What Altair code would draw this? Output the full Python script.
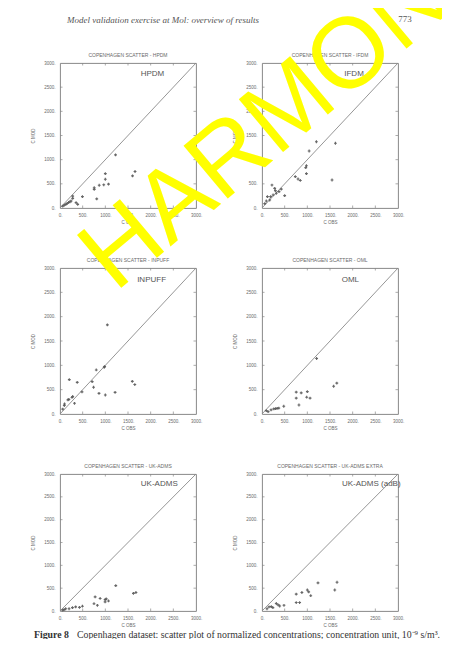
import altair as alt
import pandas as pd

tick_values = [0, 500, 1000, 1500, 2000, 2500, 3000]

panel_titles = [
    "COPENHAGEN SCATTER  -  HPDM",
    "COPENHAGEN SCATTER  -  IFDM",
    "COPENHAGEN SCATTER  -  INPUFF",
    "COPENHAGEN SCATTER  -  OML",
    "COPENHAGEN SCATTER  -  UK-ADMS",
    "COPENHAGEN SCATTER  -  UK-ADMS EXTRA",
]
model_labels = ["HPDM", "IFDM", "INPUFF", "OML", "UK-ADMS", "UK-ADMS (adB)"]
label_obs = [2040, 2030, 2020, 1950, 2190, 2410]
label_mod = [2770, 2770, 2745, 2745, 2780, 2790]

hpdm_obs = [1225, 1000, 1000, 1655, 1600, 1070, 965, 865, 755, 755, 810, 495, 280, 280, 245, 190, 130, 95, 355, 390, 160, 220, 60]
hpdm_mod = [1100, 710, 595, 755, 665, 495, 480, 470, 420, 385, 190, 235, 245, 200, 145, 115, 75, 60, 110, 75, 95, 130, 40]

ifdm_obs = [1200, 1620, 1040, 980, 965, 980, 1545, 735, 795, 845, 220, 280, 295, 425, 375, 315, 245, 190, 120, 170, 95, 500, 60]
ifdm_mod = [1370, 1340, 1180, 875, 835, 710, 580, 650, 600, 570, 475, 405, 360, 390, 340, 305, 270, 235, 235, 165, 145, 255, 90]

inpuff_obs = [1045, 985, 975, 800, 205, 380, 710, 740, 485, 860, 1000, 1215, 1595, 1650, 280, 265, 195, 175, 320, 100, 95, 60]
inpuff_mod = [1830, 975, 960, 905, 705, 650, 665, 550, 455, 425, 390, 445, 670, 605, 360, 340, 300, 290, 220, 205, 175, 100]

oml_obs = [1205, 1650, 1580, 755, 865, 1000, 985, 1060, 755, 815, 480, 260, 335, 200, 135, 95, 300, 370]
oml_mod = [1140, 635, 570, 450, 435, 460, 345, 325, 325, 185, 160, 105, 115, 85, 50, 70, 110, 120]

ukadms_obs = [1230, 1675, 1620, 775, 885, 995, 1020, 1070, 995, 750, 825, 495, 345, 275, 200, 125, 90, 430, 60]
ukadms_mod = [555, 405, 385, 310, 275, 250, 265, 220, 200, 160, 125, 105, 90, 75, 50, 50, 30, 80, 20]

extra_obs = [1235, 1655, 1605, 1000, 1030, 880, 755, 1075, 755, 830, 485, 315, 355, 205, 155, 240, 110, 390]
extra_mod = [615, 630, 460, 460, 420, 405, 370, 335, 185, 185, 125, 165, 135, 95, 90, 75, 50, 110]

all_obs = [hpdm_obs, ifdm_obs, inpuff_obs, oml_obs, ukadms_obs, extra_obs]
all_mod = [hpdm_mod, ifdm_mod, inpuff_mod, oml_mod, ukadms_mod, extra_mod]

diag_vals = [0, 3000]

header_text = "Model validation exercise at Mol: overview of results"
page_number = "773"
caption_bold = "Figure 8"
caption_rest = "Copenhagen dataset: scatter plot of normalized concentrations; concentration unit, 10\u207b\u2079 s/m\u00b3."
watermark = "HARMON"

PANEL_W = 136
PANEL_H = [145, 145, 146, 146, 137, 137]
SANS = "Liberation Sans"
SERIF = "Liberation Serif"
GRAY = "#6a6a6a"


def text_layer(txt, x, y, **kw):
    df = pd.DataFrame({"t": [txt]})
    return alt.Chart(df).mark_text(**kw).encode(x=alt.value(x), y=alt.value(y), text="t:N")


def panel(i):
    w, h = PANEL_W, PANEL_H[i]
    xs = alt.Scale(domain=[0, 3000], nice=False, zero=False)
    ys = alt.Scale(domain=[0, 3000], nice=False, zero=False)
    xaxis = alt.Axis(values=tick_values, labelExpr="datum.value + '.'", ticks=False, domain=False,
                     grid=False, labelFont=SANS, labelFontSize=4.5, labelColor=GRAY, labelPadding=4,
                     title="C OBS", titleFont=SANS, titleFontSize=4.5, titleFontWeight="normal",
                     titleColor=GRAY, titlePadding=3, labelFlush=False)
    yaxis = alt.Axis(values=tick_values, labelExpr="datum.value + '.'", ticks=False, domain=False,
                     grid=False, labelFont=SANS, labelFontSize=4.5, labelColor=GRAY, labelPadding=5,
                     title="C MOD", titleFont=SANS, titleFontSize=4.5, titleFontWeight="normal",
                     titleColor=GRAY, titlePadding=8, labelFlush=False)

    def X(f):
        return alt.X(f, type="quantitative", scale=xs, axis=xaxis)

    def Y(f):
        return alt.Y(f, type="quantitative", scale=ys, axis=yaxis)

    df = pd.DataFrame({"obs": all_obs[i], "mod": all_mod[i]})
    pts = alt.Chart(df).mark_point(shape="cross", filled=True, size=8, color="#555555", opacity=0.9).encode(
        x=X("obs"), y=Y("mod"))
    ddf = pd.DataFrame({"obs": diag_vals, "mod": diag_vals})
    diag = alt.Chart(ddf).mark_line(color="#8a8a8a", strokeWidth=0.9).encode(x=X("obs"), y=Y("mod"))
    ldf = pd.DataFrame({"obs": [label_obs[i]], "mod": [label_mod[i]], "t": [model_labels[i]]})
    lab = alt.Chart(ldf).mark_text(font=SANS, fontSize=8, color="#555555", align="center",
                                   baseline="middle").encode(x=X("obs"), y=Y("mod"), text="t:N")
    tdf = pd.DataFrame({"v": tick_values[1:-1]})
    tick_style = dict(color="#888888", strokeWidth=0.7)
    tb = alt.Chart(tdf).mark_rule(**tick_style).encode(x=X("v"), y=alt.value(h), y2=alt.value(h - 2.5))
    tt = alt.Chart(tdf).mark_rule(**tick_style).encode(x=X("v"), y=alt.value(0), y2=alt.value(2.5))
    tl = alt.Chart(tdf).mark_rule(**tick_style).encode(y=Y("v"), x=alt.value(0), x2=alt.value(2.5))
    tr = alt.Chart(tdf).mark_rule(**tick_style).encode(y=Y("v"), x=alt.value(w - 2.5), x2=alt.value(w))

    ttl = text_layer(panel_titles[i], w / 2, -8, font=SANS, fontSize=5, color=GRAY,
                     align="center", baseline="middle")

    layers = [diag, tb, tt, tl, tr, pts, lab, ttl]

    if i == 0:
        layers.append(text_layer(header_text, 7, -43, font=SERIF, fontStyle="italic", fontSize=9,
                                 color="#555555", align="left", baseline="middle"))
        layers.append(text_layer(page_number, 345, -44, font=SERIF, fontSize=9, color="#555555",
                                 align="center", baseline="middle"))
    if i == 4:
        layers.append(text_layer(caption_bold, -26, 160.5, font=SERIF, fontWeight="bold", fontSize=9.8,
                                 color="#333333", align="left", baseline="middle"))
        layers.append(text_layer(caption_rest, 17, 160.5, font=SERIF, fontSize=9.8, color="#333333",
                                 align="left", baseline="middle"))
    if i == 5:
        layers.append(text_layer(watermark, -147, -181, font=SANS, fontSize=100, color="#FFFF00",
                                 angle=320, align="left", baseline="alphabetic"))

    return alt.layer(*layers).properties(width=w, height=h)


chart = alt.concat(*[panel(i) for i in range(6)], columns=2, spacing={"row": 60, "column": 66},
                   bounds="flush").properties(
    autosize=alt.AutoSizeParams(type="none"),
    padding={"left": 52, "top": 55, "right": 382, "bottom": 576},
    background="white",
).configure_view(stroke="#7a7a7a", strokeWidth=0.9)

chart.save("out.html", embed_options={"renderer": "svg", "actions": False})
